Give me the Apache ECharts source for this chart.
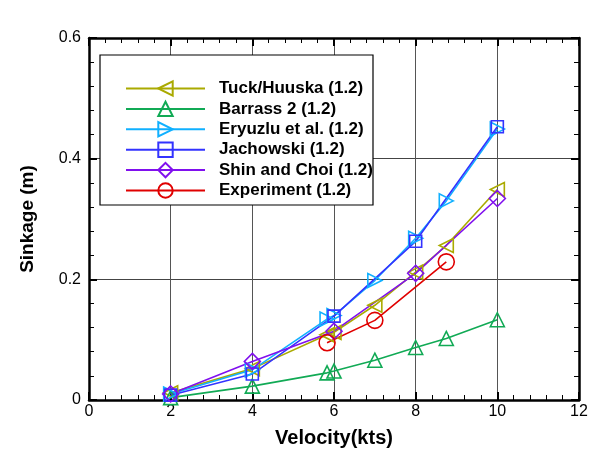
<!DOCTYPE html>
<html>
<head>
<meta charset="utf-8">
<script src="https://cdn.jsdelivr.net/npm/echarts@6/dist/echarts.min.js"></script>
<style>
  html, body { margin: 0; padding: 0; background: #fff; }
  #chart { width: 602px; height: 453px; }
</style>
</head>
<body>
<div id="chart"></div>
<script>
// Ship sinkage vs velocity, squat formulae against measurement (blockage 1.2)
const velFull = [2, 4, 5.83, 6, 7, 8, 8.75, 10];
const velEven = [2, 4, 6, 8, 10];
const velExp = [5.83, 7, 8.75];

const tuckHuuska = [0.012, 0.052, 0.108, 0.112, 0.157, 0.212, 0.256, 0.349];
const barrass2   = [0.004, 0.023, 0.045, 0.048, 0.066, 0.087, 0.102, 0.133];
const eryuzlu    = [0.010, 0.050, 0.134, 0.140, 0.198, 0.268, 0.330, 0.449];
const jachowski  = [0.008, 0.043, 0.139, 0.263, 0.453];
const shinChoi   = [0.010, 0.064, 0.114, 0.210, 0.334];
const experiment = [0.095, 0.132, 0.229];

const xTicks = { min: 0, max: 12, interval: 2 };
const yTicks = { min: 0, max: 0.6, interval: 0.2 };

const pairs = (xs, ys) => xs.map((x, i) => [x, ys[i]]);

function lineSeries(name, xs, ys, color, symbol, size, rotate) {
  return {
    name: name,
    type: 'line',
    data: pairs(xs, ys),
    color: color,
    symbol: symbol,
    symbolSize: size,
    symbolRotate: rotate || 0,
    showAllSymbol: true,
    lineStyle: { color: color, width: 1.6 },
    itemStyle: { color: 'rgba(255,255,255,0)', borderColor: color, borderWidth: 1.6 },
    emphasis: { disabled: true },
    z: 3
  };
}

const axisBase = {
  axisLine: { show: true, onZero: false, lineStyle: { color: '#000', width: 2.5 } },
  axisTick: { show: true, inside: true, length: 8, lineStyle: { color: '#000', width: 2 } },
  minorTick: { show: true, splitNumber: 5, length: 5, lineStyle: { color: '#000', width: 1 } }
};

const chart = echarts.init(document.getElementById('chart'), null, { renderer: 'canvas' });
chart.setOption({
  animation: false,
  backgroundColor: '#fff',
  grid: { left: 89, right: 23, top: 38, bottom: 44 },
  xAxis: [
    Object.assign({
      type: 'value', position: 'bottom',
      min: xTicks.min, max: xTicks.max, interval: xTicks.interval,
      name: 'Velocity(kts)', nameLocation: 'middle', nameGap: 28,
      nameTextStyle: { fontFamily: 'Liberation Sans', fontWeight: 'bold', fontSize: 20, color: '#000' },
      axisLabel: { fontFamily: 'Liberation Sans', fontSize: 16, color: '#000', margin: 4 },
      splitLine: { show: true, lineStyle: { color: '#555', width: 1 } }
    }, axisBase),
    Object.assign({
      type: 'value', position: 'top',
      min: xTicks.min, max: xTicks.max, interval: xTicks.interval,
      axisLabel: { show: false }, splitLine: { show: false }
    }, axisBase)
  ],
  yAxis: [
    Object.assign({
      type: 'value', position: 'left',
      min: yTicks.min, max: yTicks.max, interval: yTicks.interval,
      name: 'Sinkage (m)', nameLocation: 'middle', nameGap: 52,
      nameTextStyle: { fontFamily: 'Liberation Sans', fontWeight: 'bold', fontSize: 19, color: '#000' },
      axisLabel: { fontFamily: 'Liberation Sans', fontSize: 16, color: '#000', margin: 8 },
      splitLine: { show: true, lineStyle: { color: '#444', width: 1 } }
    }, axisBase),
    Object.assign({
      type: 'value', position: 'right',
      min: yTicks.min, max: yTicks.max, interval: yTicks.interval,
      axisLabel: { show: false }, splitLine: { show: false }
    }, axisBase)
  ],
  graphic: [{
    type: 'rect', z: 3,
    shape: { x: 100, y: 55, width: 273, height: 150 },
    style: { fill: '#fff', stroke: '#000', lineWidth: 1.2 }
  }],
  legend: {
    orient: 'vertical',
    left: 120, top: 75,
    itemWidth: 79, itemHeight: 18, itemGap: 3.4,
    z: 5,
    textStyle: { fontFamily: 'Liberation Sans', fontWeight: 'bold', fontSize: 17, color: '#000', padding: [0, 0, 0, 9] },
    selectedMode: false
  },
  series: [
    lineSeries('Tuck/Huuska (1.2)', velFull, tuckHuuska, '#aaaa00', 'triangle', 14, 90),
    lineSeries('Barrass 2 (1.2)', velFull, barrass2, '#11aa55', 'triangle', 14, 0),
    lineSeries('Eryuzlu et al. (1.2)', velFull, eryuzlu, '#10b0ff', 'triangle', 14, -90),
    lineSeries('Jachowski (1.2)', velEven, jachowski, '#3333ff', 'rect', 12, 0),
    lineSeries('Shin and Choi (1.2)', velEven, shinChoi, '#8010ee', 'diamond', 16, 0),
    lineSeries('Experiment (1.2)', velExp, experiment, '#e00000', 'circle', 16, 0)
  ]
});
</script>
</body>
</html>
